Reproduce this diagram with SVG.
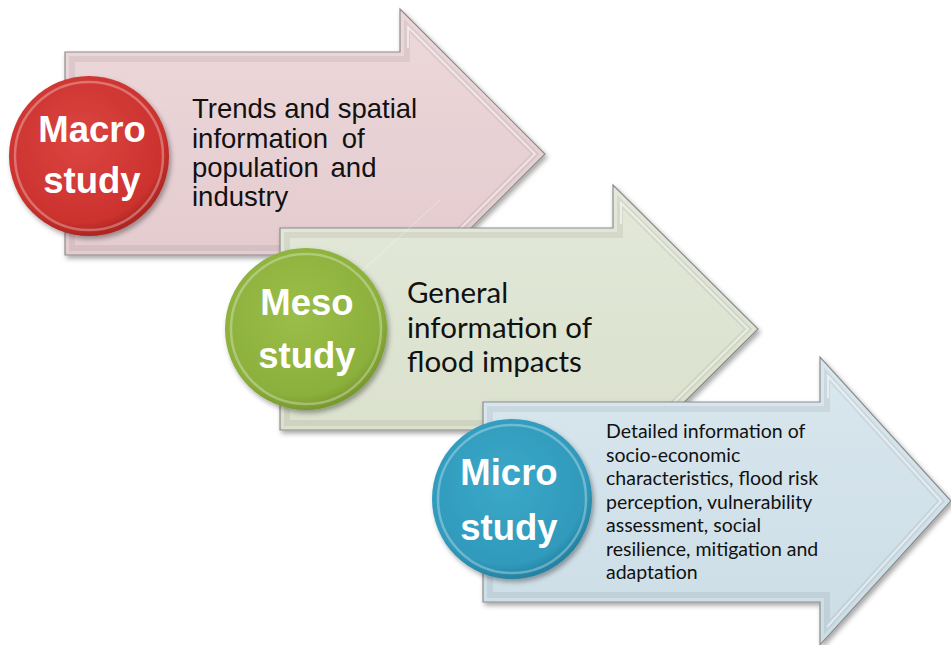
<svg xmlns="http://www.w3.org/2000/svg" width="951" height="645" viewBox="0 0 951 645">
  <defs>
    <filter id="shadow" x="-10%" y="-10%" width="130%" height="130%">
      <feDropShadow dx="2" dy="3" stdDeviation="2.5" flood-color="#000" flood-opacity="0.35"/>
    </filter>
    <linearGradient id="pinkFill" x1="0" y1="0" x2="0" y2="1">
      <stop offset="0" stop-color="#ecd8da"/>
      <stop offset="1" stop-color="#e3c9cd"/>
    </linearGradient>
    <linearGradient id="greenFill" x1="0" y1="0" x2="0" y2="1">
      <stop offset="0" stop-color="#e3e8d9"/>
      <stop offset="1" stop-color="#d9e0cb"/>
    </linearGradient>
    <linearGradient id="blueFill" x1="0" y1="0" x2="0" y2="1">
      <stop offset="0" stop-color="#d9e7ee"/>
      <stop offset="1" stop-color="#ccdde6"/>
    </linearGradient>
    <radialGradient id="redBall" cx="0.45" cy="0.4" r="0.6">
      <stop offset="0" stop-color="#db4541"/>
      <stop offset="0.85" stop-color="#cc322e"/>
      <stop offset="1" stop-color="#ad2622"/>
    </radialGradient>
    <radialGradient id="greenBall" cx="0.45" cy="0.4" r="0.6">
      <stop offset="0" stop-color="#9bbe49"/>
      <stop offset="0.85" stop-color="#8cb03c"/>
      <stop offset="1" stop-color="#78992e"/>
    </radialGradient>
    <radialGradient id="blueBall" cx="0.45" cy="0.4" r="0.6">
      <stop offset="0" stop-color="#3ca8c8"/>
      <stop offset="0.85" stop-color="#309abc"/>
      <stop offset="1" stop-color="#2582a1"/>
    </radialGradient>
  </defs>
  <style>
    .arrow { stroke: #8c8c8c; stroke-width: 1.2; filter: url(#shadow); }
    .bevel { fill: none; stroke: #ffffff; stroke-opacity: 0.55; stroke-width: 2; }
    .bevel-dark { fill: none; stroke: #000000; stroke-opacity: 0.06; stroke-width: 6; }
    .ball { filter: url(#shadow); }
    .rim { fill: none; stroke: #ffffff; stroke-opacity: 0.3; stroke-width: 2.5; }
    .ball-label { font-family: "Liberation Sans", Arial, sans-serif; font-weight: bold; font-size: 36.5px; fill: #ffffff; text-anchor: middle; }
    .macro-text { font-family: "Liberation Sans", Arial, sans-serif; font-size: 27.5px; fill: #111111; }
    .meso-text { font-family: Lato, "Open Sans", sans-serif; font-size: 29.5px; fill: #111111; }
    .micro-text { font-family: Lato, "Open Sans", sans-serif; font-size: 19.5px; fill: #111111; }
  </style>

  <!-- Macro study -->
  <g id="macro">
    <path class="arrow" fill="url(#pinkFill)" d="M65,52 H400 V9 L545,154 L400,299 V255 H65 Z"/>
    <path class="bevel-dark" d="M72,59 H407 V26 L535,154 L407,282 V248 H72 Z"/>
    <path class="bevel" d="M407,26 L535,154 L407,282"/>
    <path class="bevel" d="M408,28 V48" stroke-width="4"/>
    <circle class="ball" cx="89" cy="156" r="80" fill="url(#redBall)"/>
    <circle class="rim" cx="89" cy="156" r="74"/>
    <text class="ball-label" x="92" y="142">Macro</text>
    <text class="ball-label" x="92" y="193">study</text>
    <text class="macro-text" x="192" y="118">Trends and spatial</text>
    <text class="macro-text" x="192" y="147.5" word-spacing="6">information of</text>
    <text class="macro-text" x="192" y="177" word-spacing="4">population and</text>
    <text class="macro-text" x="192" y="206">industry</text>
  </g>

  <!-- Meso study -->
  <g id="meso">
    <path class="arrow" fill="url(#greenFill)" d="M280,228 H613 V185 L758,329 L613,473 V430 H280 Z"/>
    <path class="bevel-dark" d="M287,235 H620 V202 L748,329 L620,456 V423 H287 Z"/>
    <path class="bevel" d="M620,202 L748,329 L620,456"/>
    <path class="bevel" d="M621,204 V224" stroke-width="4"/>
    <path d="M330,300 L440,200" stroke="#ffffff" stroke-opacity="0.35" stroke-width="1"/>
    <circle class="ball" cx="306" cy="329" r="81" fill="url(#greenBall)"/>
    <circle class="rim" cx="306" cy="329" r="75"/>
    <text class="ball-label" x="307" y="315">Meso</text>
    <text class="ball-label" x="307" y="368">study</text>
    <text class="meso-text" x="407" y="303">General</text>
    <text class="meso-text" x="407" y="338">information of</text>
    <text class="meso-text" x="407" y="372">flood impacts</text>
  </g>

  <!-- Micro study -->
  <g id="micro">
    <path class="arrow" fill="url(#blueFill)" d="M483,402 H820 V357 L951,501 L820,645 V602 H483 Z"/>
    <path class="bevel-dark" d="M490,409 H827 V375 L941,501 L827,627 V595 H490 Z"/>
    <path class="bevel" d="M827,375 L941,501 L827,627"/>
    <path class="bevel" d="M828,377 V398" stroke-width="4"/>
    <circle class="ball" cx="512" cy="499" r="80" fill="url(#blueBall)"/>
    <circle class="rim" cx="512" cy="499" r="74"/>
    <text class="ball-label" x="509" y="485">Micro</text>
    <text class="ball-label" x="509" y="540">study</text>
    <text class="micro-text" x="606" y="438">Detailed information of</text>
    <text class="micro-text" x="606" y="461.5">socio-economic</text>
    <text class="micro-text" x="606" y="485">characteristics, flood risk</text>
    <text class="micro-text" x="606" y="508.5">perception, vulnerability</text>
    <text class="micro-text" x="606" y="532">assessment, social</text>
    <text class="micro-text" x="606" y="555.5">resilience, mitigation and</text>
    <text class="micro-text" x="606" y="579">adaptation</text>
  </g>
</svg>
